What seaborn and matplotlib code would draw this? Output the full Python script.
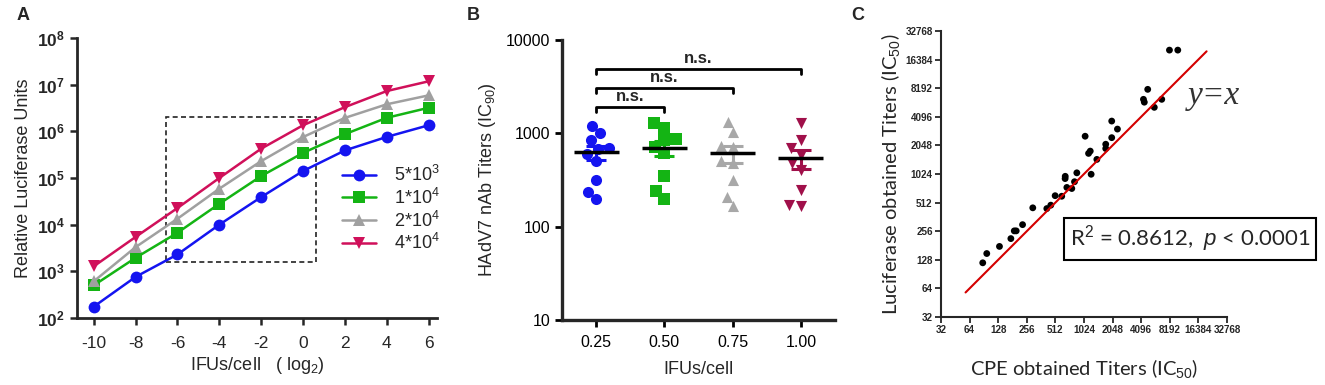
import numpy as np
import pandas as pd
import seaborn as sns
import matplotlib.pyplot as plt
from matplotlib.patches import Rectangle
from matplotlib.ticker import FixedLocator, FuncFormatter, NullLocator

sns.set_style('ticks')
plt.rcParams['font.family'] = ['Liberation Sans', 'DejaVu Sans']
plt.rcParams['mathtext.fontset'] = 'custom'
plt.rcParams['mathtext.rm'] = 'Liberation Sans'
plt.rcParams['mathtext.it'] = 'Liberation Sans:italic'
plt.rcParams['mathtext.bf'] = 'Liberation Sans:bold'
plt.rcParams['axes.unicode_minus'] = False

# ---- A: luciferase signal vs input virus (log2 IFUs/cell), 4 cell densities
ifu_log2 = [-10, -8, -6, -4, -2, 0, 2, 4, 6]
rlu_5e3 = [175, 760, 2300, 10000, 39000, 141000, 390000, 760000, 1350000]
rlu_1e4 = [500, 1950, 6700, 28000, 110000, 345000, 870000, 1950000, 3200000]
rlu_2e4 = [610, 3300, 13400, 59000, 230000, 755000, 1940000, 3800000, 5900000]
rlu_4e4 = [1280, 5450, 22700, 100000, 425000, 1350000, 3300000, 7300000, 11800000]
cell_labels = ['5*10$^3$', '1*10$^4$', '2*10$^4$', '4*10$^4$']
box_x = [-6.55, 0.6]
box_y = [1550, 2.0e6]

# ---- B: nAb titers at different IFUs/cell
ifu_cats = ['0.25', '0.50', '0.75', '1.00']
titer_025 = [1200, 1000, 850, 700, 680, 600, 500, 316, 237, 196]
titer_050 = [1300, 1150, 860, 840, 720, 620, 350, 240, 200]
titer_075 = [1330, 1030, 740, 720, 500, 480, 316, 210, 166]
titer_100 = [1280, 840, 690, 590, 480, 405, 245, 170, 165]
ns_pairs = [('0.25', '0.50'), ('0.25', '0.75'), ('0.25', '1.00')]
ns_levels = [1930, 3085, 4890]

# ---- C: CPE vs luciferase titers
cpe_titer = [88, 97, 132, 174, 189, 198, 231, 296, 416, 458, 509, 597, 648, 650,
             676, 762, 814, 861, 1053, 1144, 1192, 1218, 1399, 1735, 1735, 2006,
             2006, 2304, 4329, 4420, 4800, 5630, 6745, 8130, 9950]
luc_titer = [119, 149, 177, 214, 258, 258, 300, 451, 443, 481, 605, 597, 916, 968,
             739, 720, 849, 1053, 2556, 1686, 1783, 1017, 1458, 2105, 1897, 2469,
             3691, 3040, 6250, 5832, 7960, 5148, 6250, 20600, 20600]
identity_range = [58, 20000]

colors_a = ['#1414f0', '#14b414', '#a0a0a0', '#d0105a']
colors_b = ['#1414f0', '#14b414', '#a8a8a8', '#a0104a']

fig = plt.figure(figsize=(13.25, 3.85), dpi=100)
ax_a = fig.add_axes([0.0581, 0.174, 0.2717, 0.7273])
ax_b = fig.add_axes([0.4242, 0.1688, 0.2060, 0.7273])
ax_c = fig.add_axes([0.7102, 0.1766, 0.2158, 0.7430])

# ================= A
df_a = pd.DataFrame({
    'x': ifu_log2 * 4,
    'rlu': rlu_5e3 + rlu_1e4 + rlu_2e4 + rlu_4e4,
    'cells': np.repeat(cell_labels, len(ifu_log2)),
})
ax_a.set_yscale('log')
sns.lineplot(data=df_a, x='x', y='rlu', hue='cells', style='cells',
             palette=colors_a, markers=['o', 's', '^', 'v'], dashes=False,
             markersize=8.5, markeredgewidth=0, linewidth=1.8, ax=ax_a)
ax_a.add_patch(Rectangle((box_x[0], box_y[0]), box_x[1] - box_x[0], box_y[1] - box_y[0],
                         fill=False, ls=(0, (3, 2)), lw=1.2, ec='#222222'))
ax_a.set_xlim(-10.8, 6.4)
ax_a.set_ylim(1e2, 1e8)
ax_a.set_xticks(range(-10, 7, 2))
ax_a.yaxis.set_major_locator(FixedLocator([10.0 ** k for k in range(2, 9)]))
ax_a.yaxis.set_minor_locator(NullLocator())
ax_a.yaxis.set_major_formatter(FuncFormatter(lambda v, p: r'$\mathbf{10^{%d}}$' % round(np.log10(v))))
ax_a.tick_params(axis='both', labelsize=12.5, width=1.8, length=5)
ax_a.tick_params(axis='x', pad=8)
ax_a.set_xlabel('IFUs/cell   ( log$_2$)', fontsize=13, labelpad=3)
ax_a.set_ylabel('Relative Luciferase Units', fontsize=13, labelpad=4)
for s in ['left', 'bottom']:
    ax_a.spines[s].set_linewidth(2)
sns.despine(ax=ax_a)
leg = ax_a.legend(loc='upper left', bbox_to_anchor=(0.69, 0.605), frameon=False,
                  fontsize=13, handlelength=1.9, handletextpad=1.0, labelspacing=0.15,
                  markerscale=1.0)

# ================= B
df_b = pd.DataFrame({
    'ifu': np.repeat(ifu_cats, [len(titer_025), len(titer_050), len(titer_075), len(titer_100)]),
    'titer': titer_025 + titer_050 + titer_075 + titer_100,
})
ax_b.set_yscale('log')
for cat, col, mk in zip(ifu_cats, colors_b, ['o', 's', '^', 'v']):
    sns.swarmplot(data=df_b[df_b['ifu'] == cat], x='ifu', y='titer', order=ifu_cats,
                  color=col, marker=mk, size=8, linewidth=0, ax=ax_b, warn_thresh=1)
stats = df_b.groupby('ifu')['titer'].agg(['mean', 'sem']).reindex(ifu_cats)
for i, (cat, col) in enumerate(zip(ifu_cats, colors_b)):
    ax_b.errorbar(i, stats.loc[cat, 'mean'], yerr=stats.loc[cat, 'sem'], fmt='none',
                  ecolor=col, elinewidth=2.2, capsize=7, capthick=2.2, zorder=4)
ax_b.hlines(stats['mean'], np.arange(4) - 0.33, np.arange(4) + 0.33,
            color='black', lw=2.5, zorder=5)
for (g1, g2), lvl in zip(ns_pairs, ns_levels):
    i1, i2 = ifu_cats.index(g1), ifu_cats.index(g2)
    ax_b.plot([i1, i1, i2, i2], [lvl * 0.88, lvl, lvl, lvl * 0.88], color='black', lw=2)
    ax_b.text((i1 + i2) / 2, lvl * 1.07, 'n.s.', ha='center', va='bottom',
              fontsize=12, fontweight='bold')
ax_b.set_xlim(-0.5, 3.5)
ax_b.set_ylim(10, 10000)
ax_b.yaxis.set_major_locator(FixedLocator([10, 100, 1000, 10000]))
ax_b.yaxis.set_minor_locator(NullLocator())
ax_b.yaxis.set_major_formatter(FuncFormatter(lambda v, p: '%d' % v))
ax_b.tick_params(axis='both', labelsize=11.5, width=2, length=5, colors='black')
ax_b.tick_params(axis='x', pad=6)
ax_b.set_xlabel('IFUs/cell', fontsize=13, labelpad=8)
ax_b.set_ylabel('HAdV7 nAb Titers (IC$_{90}$)', fontsize=13, labelpad=6)
for s in ['left', 'bottom']:
    ax_b.spines[s].set_linewidth(2.4)
sns.despine(ax=ax_b)

# ================= C
ax_c.set_xscale('log', base=2)
ax_c.set_yscale('log', base=2)
sns.scatterplot(x=cpe_titer, y=luc_titer, color='black', s=24, edgecolor='none', ax=ax_c)
sns.lineplot(x=identity_range, y=identity_range, color='#d40000', lw=1.5, ax=ax_c)
c_ticks = [2 ** k for k in range(5, 16)]
ax_c.set_xlim(32, 32768)
ax_c.set_ylim(32, 32768)
for axis in [ax_c.xaxis, ax_c.yaxis]:
    axis.set_major_locator(FixedLocator(c_ticks))
    axis.set_minor_locator(NullLocator())
    axis.set_major_formatter(FuncFormatter(lambda v, p: '%d' % v))
ax_c.tick_params(axis='both', labelsize=7.1, width=1.3, length=4, pad=2)
for t in ax_c.get_xticklabels() + ax_c.get_yticklabels():
    t.set_fontweight('bold')
ax_c.set_xlabel('CPE obtained Titers (IC$_{50}$)', fontsize=14.5, family='Lato', labelpad=16)
ax_c.set_ylabel('Luciferase obtained Titers (IC$_{50}$)', fontsize=14.5, family='Lato', labelpad=2)
for s in ['left', 'bottom']:
    ax_c.spines[s].set_linewidth(1.5)
sns.despine(ax=ax_c)
ax_c.text(0.955, 0.775, 'y=x', transform=ax_c.transAxes, ha='center', va='center',
          fontsize=24, family='Liberation Serif', style='italic', color='#333333')
ax_c.text(0.871, 0.273, 'R$^2$ = 0.8612,  $p$ < 0.0001', transform=ax_c.transAxes,
          ha='center', va='center', fontsize=16, family='Lato',
          bbox=dict(boxstyle='square,pad=0.25', fc='white', ec='black', lw=1.5))

# panel letters
for lbl, xp in zip(['A', 'B', 'C'], [17, 467, 851]):
    fig.text(xp / 1325, 1 - 15 / 385, lbl, fontsize=13, fontweight='bold', ha='left', va='center')

fig.savefig('out.png', dpi=100)
